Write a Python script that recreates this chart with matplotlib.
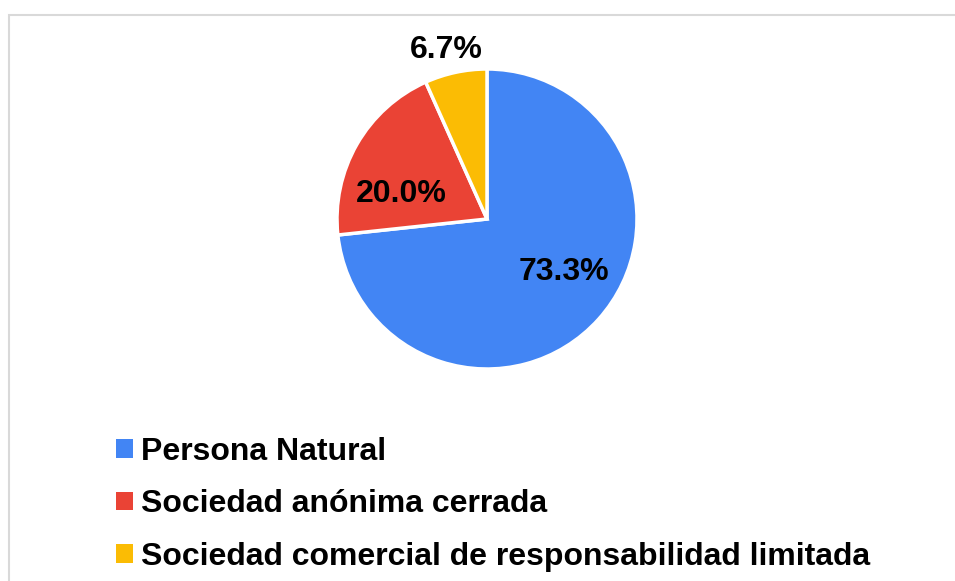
import matplotlib
matplotlib.use("Agg")
import matplotlib.pyplot as plt
from matplotlib.patches import Rectangle, Patch

categories = ["Persona Natural", "Sociedad anónima cerrada",
              "Sociedad comercial de responsabilidad limitada"]
values = [73.3, 20.0, 6.7]
colors = ["#4285F4", "#EA4335", "#FBBC04"]
label_pos = [(0.51, -0.35), (-0.57, 0.165), (-0.27, 1.13)]

plt.rcParams['font.family'] = ['Liberation Sans', 'DejaVu Sans']

W, H = 955, 581
fig = plt.figure(figsize=(W / 100, H / 100), dpi=100)
fig.patch.set_facecolor("white")

cx, cy, r = 487, 219, 150
ax = fig.add_axes([(cx - r) / W, (H - cy - r) / H, 2 * r / W, 2 * r / H])
ax.pie(values, colors=colors, startangle=90, counterclock=False, radius=1,
       wedgeprops=dict(edgecolor="white", linewidth=2.5))
ax.set_xlim(-1, 1)
ax.set_ylim(-1, 1)
ax.set_aspect("equal")
ax.axis("off")
for v, (x, y) in zip(values, label_pos):
    ax.text(x, y, f"{v:.1f}%", ha="center", va="center", fontsize=23,
            fontweight="bold", color="black", clip_on=False)

handles = [Patch(facecolor=c, edgecolor="none") for c in colors]
fig.legend(handles, categories, loc="upper left",
           bbox_to_anchor=(116 / W, 1 - 437 / H), frameon=False,
           prop=dict(size=23, weight="bold"), handlelength=0.53,
           handleheight=0.53, handletextpad=0.25, labelspacing=0.70,
           borderpad=0, borderaxespad=0)

fig.add_artist(Rectangle((8.5 / W, -0.1), 1.2, (H - 14.5) / H + 0.1,
                         transform=fig.transFigure, fill=False,
                         edgecolor="#d9d9d9", linewidth=1.5))

fig.savefig("out.png", dpi=100, facecolor="white")
